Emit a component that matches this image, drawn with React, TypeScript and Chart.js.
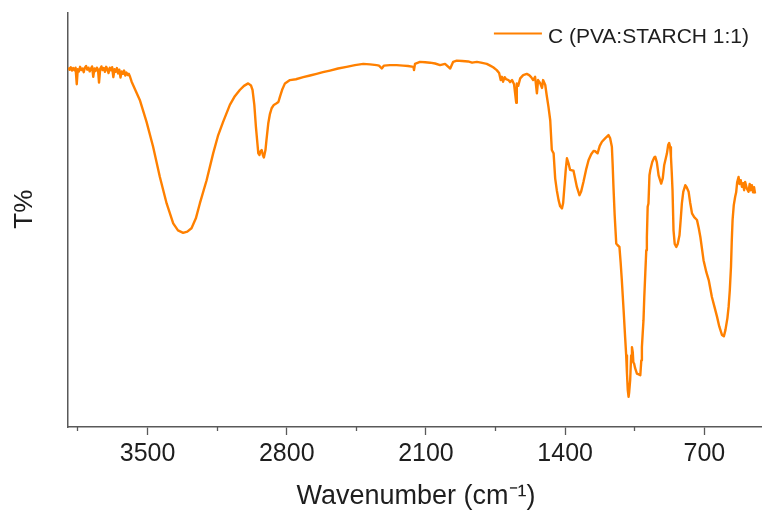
import React, { useEffect, useRef } from 'react';
import { Chart, registerables } from 'chart.js';

Chart.register(...registerables);

const seriesLabel = 'C (PVA:STARCH 1:1)';
const xTitle = 'Wavenumber (cm\u207B\u00B9)';
const yTitle = '   T%';

const majorTicks = [3500, 2800, 2100, 1400, 700];
const minorTicks = [3850, 3150, 2450, 1750, 1050];

const wavenumbers = [
  3899, 3892, 3886, 3880, 3874, 3868, 3862, 3856, 3851, 3845, 3839, 3833, 3827, 3821, 3815, 3809,
  3803, 3797, 3791, 3785, 3779, 3773, 3767, 3761, 3755, 3749, 3744, 3738, 3732, 3726, 3720, 3714,
  3708, 3702, 3696, 3690, 3684, 3678, 3672, 3666, 3660, 3654, 3648, 3642, 3636, 3630, 3624, 3618,
  3612, 3606, 3600, 3594, 3588,
  3580, 3539, 3505, 3472, 3438, 3404, 3371, 3347, 3321, 3300, 3279, 3257, 3237, 3203, 3170, 3146,
  3120, 3086, 3061, 3036, 3015, 2994, 2980, 2972, 2963, 2955, 2949, 2943, 2937, 2932, 2926, 2920,
  2915, 2907, 2902, 2893, 2885, 2876, 2865, 2851, 2842, 2834, 2822, 2809, 2784, 2754, 2717, 2683,
  2650, 2618, 2583, 2542, 2499, 2457, 2415, 2381, 2348, 2336, 2322, 2311, 2281, 2247, 2215, 2190,
  2163, 2160, 2155, 2130, 2104, 2079, 2054, 2029, 2004, 1978, 1963, 1945, 1918, 1888, 1868, 1844,
  1823, 1794, 1777, 1762, 1744, 1732, 1724, 1718, 1712, 1704, 1697, 1685, 1677, 1667, 1657, 1646,
  1643, 1636, 1626, 1611, 1593, 1581, 1571, 1561, 1551, 1542, 1536, 1526, 1516, 1511, 1500, 1493,
  1484, 1475, 1467, 1458, 1450, 1442, 1433, 1425, 1416, 1410, 1405, 1397, 1391, 1383, 1375, 1358,
  1341, 1328, 1320, 1308, 1295, 1282, 1269, 1257, 1249, 1237, 1226, 1215, 1199, 1182, 1174, 1165,
  1161, 1157, 1151, 1143, 1136, 1127, 1121, 1115, 1106, 1098, 1093, 1089, 1085, 1081, 1078, 1073,
  1068, 1064, 1060, 1057, 1053, 1048, 1039, 1030, 1022, 1017, 1014, 1010, 1006, 1002, 997, 992,
  989, 985, 981, 976, 972, 962, 952, 947, 939, 930, 917, 909, 902, 888, 882, 877,
  872, 868, 864, 860, 855, 849, 841, 834, 825, 819, 813, 806, 796, 789, 779, 771,
  762, 751, 737, 728, 720, 704, 690, 678, 662, 650, 636, 625, 611, 602, 594, 584,
  578, 572, 566, 562, 558, 552, 545, 540, 535, 528, 523, 517, 511, 505, 500, 495,
  487, 478, 472, 467, 461, 455, 450, 445,
];

const transmittance = [
  86.8, 86.3, 86.9, 86.1, 86.7, 86.2, 86.8, 82.8, 86.4, 85.9, 87.0, 86.2, 86.6, 85.7, 86.8, 87.2,
  86.3, 86.8, 85.9, 86.5, 87.1, 84.6, 86.6, 86.0, 86.8, 86.3, 83.2, 86.5, 87.1, 86.2, 86.7, 85.8,
  87.0, 86.4, 85.5, 86.8, 86.2, 86.9, 84.5, 86.4, 85.8, 86.7, 85.4, 86.3, 84.4, 85.9, 85.3, 86.1,
  84.9, 85.6, 85.0, 85.3, 84.6,
  83.4, 79.0, 73.7, 67.7, 60.4, 54.0, 49.2, 47.5, 46.9, 47.2, 48.0, 50.4, 54.0, 59.6, 66.1, 70.3,
  73.7, 77.8, 79.9, 81.4, 82.4, 83.0, 82.5, 81.4, 77.8, 72.5, 69.3, 66.1, 65.7, 66.6, 66.9, 65.7,
  65.1, 66.9, 69.3, 73.3, 75.5, 77.0, 77.8, 78.2, 78.5, 79.8, 81.6, 83.0, 83.8, 84.0, 84.5, 84.9,
  85.3, 85.7, 86.1, 86.6, 87.0, 87.4, 87.7, 87.6, 87.4, 87.3, 86.6, 87.3, 87.4, 87.4, 87.3, 87.2,
  87.0, 86.2, 87.7, 88.2, 88.1, 88.0, 87.8, 87.4, 87.7, 86.6, 88.2, 88.5, 88.4, 88.3, 88.0, 88.2,
  88.0, 87.7, 87.3, 86.9, 86.2, 85.5, 83.8, 84.6, 83.4, 84.5, 84.0, 83.8, 83.3, 83.8, 82.8, 78.3,
  83.0, 82.4, 84.2, 85.0, 85.3, 85.0, 84.5, 83.8, 84.6, 80.6, 83.8, 83.1, 81.9, 83.8, 82.6, 80.2,
  77.4, 74.1, 66.9, 66.1, 60.0, 57.2, 54.8, 53.3, 52.8, 54.1, 57.2, 62.1, 64.9, 63.7, 62.1, 61.9,
  58.0, 56.0, 56.8, 59.2, 62.1, 64.5, 65.9, 66.7, 66.6, 66.1, 67.9, 68.9, 69.7, 70.5, 69.8, 67.7,
  63.3, 58.0, 51.2, 44.3, 43.9, 43.5, 39.8, 35.5, 28.2, 21.4, 17.3, 12.9, 8.9, 7.3, 8.4, 11.3,
  17.3, 19.3, 18.1, 15.6, 15.3, 14.2, 12.9, 12.7, 12.5, 16.1, 19.3, 22.6, 25.8, 31.4, 37.1, 42.7,
  45.9, 53.2, 54.0, 60.8, 62.0, 64.0, 65.1, 65.3, 64.0, 60.8, 58.8, 60.1, 63.2, 66.1, 68.1, 68.6,
  67.6, 65.3, 61.6, 57.2, 47.5, 44.2, 43.5, 44.2, 46.3, 50.0, 54.0, 56.8, 58.4, 57.9, 56.8, 54.1,
  51.6, 50.7, 50.0, 48.0, 45.9, 40.3, 37.4, 35.5, 31.4, 29.2, 26.6, 24.3, 22.2, 21.9, 23.4, 26.3,
  29.0, 33.0, 38.7, 45.1, 50.0, 53.6, 55.6, 56.7, 59.1, 60.4, 58.7, 59.6, 58.0, 58.9, 57.2, 59.2,
  57.7, 56.8, 58.7, 57.2, 58.4, 56.7, 57.9, 56.4,
];

const FONT = '"Liberation Sans", Arial, Helvetica, sans-serif';
const LINE_COLOR = '#ff8000';
const AXIS_COLOR = '#595959';
const TEXT_COLOR = '#1e1e1e';

const insetLegend = {
  id: 'insetLegend',
  afterDraw(chart: any) {
    const ds = chart.data.datasets[0];
    const { ctx, chartArea } = chart;
    ctx.save();
    ctx.font = `21px ${FONT}`;
    const text = ds.label as string;
    const tw = ctx.measureText(text).width;
    const textX = chartArea.right - 15 - tw;
    ctx.strokeStyle = ds.borderColor;
    ctx.lineWidth = 2;
    ctx.beginPath();
    ctx.moveTo(textX - 54, chartArea.top + 20.5);
    ctx.lineTo(textX - 6, chartArea.top + 20.5);
    ctx.stroke();
    ctx.fillStyle = TEXT_COLOR;
    ctx.textBaseline = 'alphabetic';
    ctx.textAlign = 'left';
    ctx.fillText(text, textX, chartArea.top + 30.3);
    ctx.restore();
  },
};

export default function App() {
  const canvasRef = useRef<HTMLCanvasElement | null>(null);

  useEffect(() => {
    const canvas = canvasRef.current;
    if (!canvas) return;
    const points = wavenumbers.map((w, i) => ({ x: w, y: transmittance[i] }));
    const chart = new Chart(canvas, {
      type: 'line',
      data: {
        datasets: [
          {
            label: seriesLabel,
            data: points,
            borderColor: LINE_COLOR,
            backgroundColor: LINE_COLOR,
            borderWidth: 2.4,
            borderJoinStyle: 'round',
            pointRadius: 0,
            tension: 0,
            fill: false,
          },
        ],
      },
      options: {
        responsive: false,
        animation: false,
        devicePixelRatio: 1,
        layout: { padding: { top: 13, right: 0, left: 0, bottom: 0 } },
        plugins: {
          legend: { display: false },
          tooltip: { enabled: false },
        },
        scales: {
          x: {
            type: 'linear',
            min: 400,
            max: 3900,
            reverse: true,
            position: 'bottom',
            weight: 1,
            afterBuildTicks: (s: any) => {
              s.ticks = majorTicks.map((v) => ({ value: v }));
            },
            afterFit: (s: any) => {
              s.height = 89;
            },
            ticks: {
              autoSkip: false,
              maxRotation: 0,
              padding: 4,
              color: TEXT_COLOR,
              font: { family: FONT, size: 25 },
              callback: (v: any) => String(v),
            },
            grid: {
              drawOnChartArea: false,
              drawTicks: true,
              tickLength: 8,
              tickColor: AXIS_COLOR,
              tickWidth: 1.3,
            },
            border: { display: true, color: AXIS_COLOR, width: 1.5 },
            title: {
              display: true,
              text: xTitle,
              color: TEXT_COLOR,
              font: { family: FONT, size: 27 },
              padding: { top: 0, bottom: 3 },
            },
          },
          xMinor: {
            type: 'linear',
            min: 400,
            max: 3900,
            reverse: true,
            position: 'bottom',
            weight: 0,
            afterBuildTicks: (s: any) => {
              s.ticks = minorTicks.map((v) => ({ value: v }));
            },
            afterFit: (s: any) => {
              s.height = 0;
            },
            ticks: { display: false },
            grid: {
              drawOnChartArea: false,
              drawTicks: true,
              tickLength: 4,
              tickColor: AXIS_COLOR,
              tickWidth: 1.3,
            },
            border: { display: false },
          },
          y: {
            type: 'linear',
            min: 0,
            max: 100,
            position: 'left',
            afterFit: (s: any) => {
              s.width = 68;
            },
            ticks: { display: false },
            grid: { display: true, drawOnChartArea: false, drawTicks: false },
            border: { display: true, color: AXIS_COLOR, width: 1.5 },
            title: {
              display: true,
              text: yTitle,
              color: TEXT_COLOR,
              font: { family: FONT, size: 26 },
              padding: { top: 9, bottom: 0 },
            },
          },
        },
      },
      plugins: [insetLegend],
    } as any);
    return () => chart.destroy();
  }, []);

  return (
    <div
      style={{
        position: 'fixed',
        left: 0,
        top: 0,
        width: 762,
        height: 516,
        overflow: 'hidden',
        background: '#ffffff',
      }}
    >
      <canvas ref={canvasRef} width={764} height={516} style={{ display: 'block' }} />
    </div>
  );
}
